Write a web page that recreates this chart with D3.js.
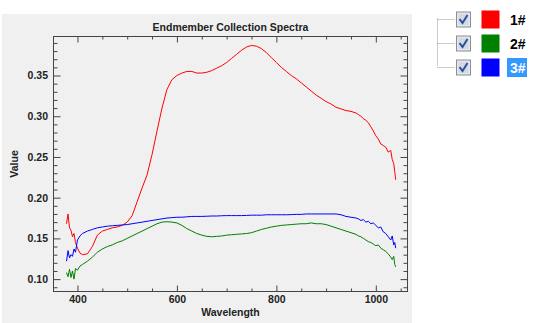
<!DOCTYPE html>
<html><head><meta charset="utf-8">
<script src="https://cdn.jsdelivr.net/npm/d3@7"></script>
<style>
html,body{margin:0;padding:0;background:#fff;}
svg{display:block;}
</style></head>
<body>
<svg id="c" width="535" height="323"></svg>
<script>
const wavelengths = [378,381,384,387,390,393,396,400,405,410,
 420,430,440,450,460,470,480,490,500,510,520,530,540,550,560,570,580,590,600,
 610,620,630,640,650,660,670,680,690,700,710,720,730,740,750,760,770,780,790,800,
 810,820,830,840,850,860,870,880,890,900,910,920,930,940,950,960,
 965,970,975,980,985,990,995,1000,1005,1010,1015,1020,1025,1030,1033,1036,1038,1040];

const series1 = [0.168,0.180,0.163,0.160,0.152,0.156,0.145,0.138,0.132,0.130,
 0.131,0.140,0.154,0.159,0.161,0.163,0.164,0.166,0.170,0.178,0.195,0.212,0.228,0.253,0.282,0.310,0.333,0.345,0.350,
 0.353,0.355,0.355,0.353,0.353,0.354,0.356,0.359,0.362,0.366,0.371,0.376,0.381,0.385,0.387,0.386,0.383,0.378,0.372,0.366,
 0.360,0.355,0.350,0.346,0.341,0.336,0.331,0.326,0.322,0.318,0.315,0.311,0.309,0.307,0.306,0.304,
 0.302,0.300,0.297,0.295,0.292,0.287,0.282,0.276,0.272,0.266,0.264,0.262,0.256,0.258,0.247,0.242,0.232,0.222];

const series2 = [0.108,0.103,0.112,0.102,0.110,0.100,0.113,0.111,0.116,0.118,
 0.122,0.127,0.133,0.137,0.140,0.142,0.145,0.147,0.150,0.153,0.156,0.159,0.162,0.165,0.168,0.170,0.1705,0.170,0.169,
 0.166,0.162,0.159,0.156,0.154,0.1525,0.152,0.1525,0.153,0.154,0.1545,0.155,0.1555,0.156,0.157,0.159,0.161,0.1625,0.164,0.165,
 0.166,0.1665,0.167,0.1675,0.168,0.168,0.169,0.168,0.168,0.167,0.165,0.163,0.161,0.159,0.157,0.155,
 0.153,0.152,0.150,0.148,0.146,0.145,0.143,0.141,0.142,0.138,0.136,0.134,0.131,0.127,0.124,0.128,0.118,0.115];

const series3 = [0.122,0.135,0.126,0.130,0.128,0.137,0.133,0.148,0.153,0.156,
 0.159,0.161,0.163,0.164,0.165,0.1655,0.166,0.1665,0.167,0.168,0.169,0.170,0.171,0.172,0.173,0.174,0.175,0.1755,0.176,
 0.176,0.1765,0.177,0.177,0.177,0.1772,0.1775,0.1775,0.1778,0.178,0.178,0.178,0.178,0.1782,0.1785,0.1785,0.1785,0.179,0.179,0.179,
 0.179,0.179,0.1792,0.1795,0.1795,0.180,0.180,0.180,0.180,0.180,0.180,0.180,0.179,0.177,0.176,0.175,
 0.174,0.172,0.173,0.170,0.171,0.168,0.169,0.166,0.163,0.164,0.158,0.156,0.152,0.148,0.153,0.142,0.145,0.138];

const seriesNames = ["1#","2#","3#"];
const seriesColors = ["#ff0000","#008000","#0000ff"];
const xTicks = [400,600,800,1000];
const xMinorTicks = [400,450,500,550,600,650,700,750,800,850,900,950,1000,1050];
const yTicks = [0.10,0.15,0.20,0.25,0.30,0.35];
const yTickLabels = ["0.10","0.15","0.20","0.25","0.30","0.35"];
const yMinorTicks = [0.09,0.10,0.11,0.12,0.13,0.14,0.15,0.16,0.17,0.18,0.19,0.20,0.21,0.22,0.23,0.24,0.25,0.26,0.27,0.28,0.29,0.30,0.31,0.32,0.33,0.34,0.35,0.36,0.37,0.38,0.39];
const title = "Endmember Collection Spectra";
const xLabel = "Wavelength";
const yLabel = "Value";

const svg = d3.select("#c");
const font = "'Liberation Sans', Arial, sans-serif";

// panel
svg.append("rect").attr("x",2).attr("y",14).attr("width",410).attr("height",309).attr("fill","#f0f0f0");

const L=53.5, R=407.5, T=36.5, B=291.5;
const x = d3.scaleLinear().domain([351.8,1063.7]).range([L,R]);
const y = d3.scaleLinear().domain([0.0848,0.3979]).range([B,T]);

const axColor = "#444";
function styleAxis(g){
  g.select(".domain").remove();
  g.selectAll(".tick line").attr("stroke",axColor);
  g.selectAll(".tick text").attr("fill","#222").attr("font-family",font).attr("font-size","10.5px").attr("font-weight","bold");
}
const notMajorX = xMinorTicks.filter(v=>!xTicks.includes(v));
const notMajorY = yMinorTicks.filter(v=>!yTicks.some(t=>Math.abs(t-v)<1e-9));
// minor ticks
svg.append("g").attr("transform",`translate(0,${B})`).call(d3.axisBottom(x).tickValues(notMajorX).tickSize(-3).tickFormat("")).call(styleAxis);
svg.append("g").attr("transform",`translate(0,${T})`).call(d3.axisTop(x).tickValues(notMajorX).tickSize(-3).tickFormat("")).call(styleAxis);
svg.append("g").attr("transform",`translate(${L},0)`).call(d3.axisLeft(y).tickValues(notMajorY).tickSize(-4).tickFormat("")).call(styleAxis);
svg.append("g").attr("transform",`translate(${R},0)`).call(d3.axisRight(y).tickValues(notMajorY).tickSize(-4).tickFormat("")).call(styleAxis);
// major ticks
svg.append("g").attr("transform",`translate(0,${B})`).call(d3.axisBottom(x).tickValues(xTicks).tickSize(-6).tickPadding(4).tickFormat(d=>String(d))).call(styleAxis);
svg.append("g").attr("transform",`translate(0,${T})`).call(d3.axisTop(x).tickValues(xTicks).tickSize(-6).tickFormat("")).call(styleAxis);
svg.append("g").attr("transform",`translate(${L},0)`).call(d3.axisLeft(y).tickValues(yTicks).tickSize(-7).tickPadding(5.5).tickFormat((d,i)=>yTickLabels[i])).call(styleAxis);
svg.append("g").attr("transform",`translate(${R},0)`).call(d3.axisRight(y).tickValues(yTicks).tickSize(-7).tickFormat("")).call(styleAxis);

// frame
svg.append("rect").attr("x",L).attr("y",T).attr("width",R-L).attr("height",B-T).attr("fill","none").attr("stroke",axColor);

// lines
const allSeries=[series1,series2,series3];
const line = d3.line().x((d,i)=>x(wavelengths[i])).y(d=>y(d));
allSeries.forEach((s,k)=>{
  svg.append("path").datum(s).attr("d",line).attr("fill","none").attr("stroke",seriesColors[k]).attr("stroke-width",1).attr("stroke-linejoin","round");
});

// titles
svg.append("text").attr("x",(L+R)/2).attr("y",30.5).attr("text-anchor","middle").attr("font-family",font).attr("font-size","10.5px").attr("font-weight","bold").attr("fill","#222").text(title);
svg.append("text").attr("x",(L+R)/2).attr("y",316).attr("text-anchor","middle").attr("font-family",font).attr("font-size","10.5px").attr("font-weight","bold").attr("fill","#222").text(xLabel);
svg.append("text").attr("transform","translate(18,164) rotate(-90)").attr("text-anchor","middle").attr("font-family",font).attr("font-size","10.5px").attr("font-weight","bold").attr("fill","#222").text(yLabel);

// legend tree
const rowY = d3.scaleLinear().domain([0,2]).range([18.5,66.5]);
const lg = svg.append("g");
lg.append("line").attr("x1",437.5).attr("x2",437.5).attr("y1",rowY(0)).attr("y2",rowY(2)).attr("stroke","#999").attr("stroke-dasharray","1,1");
seriesNames.forEach((nm,i)=>{
  const cy = Math.round(rowY(i))+0.5;
  lg.append("line").attr("x1",437.5).attr("x2",455).attr("y1",cy).attr("y2",cy).attr("stroke","#999").attr("stroke-dasharray","1,1");
  lg.append("rect").attr("x",456.5).attr("y",cy-7.5).attr("width",14).attr("height",15).attr("fill","#e4e8ee").attr("stroke","#8d8d8d");
  lg.append("rect").attr("x",458.5).attr("y",cy-5.5).attr("width",10).attr("height",11).attr("fill","#d3dae4");
  lg.append("path").attr("d",`M${459.5},${cy-0.5} L${462.5},${cy+3.5} L${467.5},${cy-4.5}`).attr("fill","none").attr("stroke","#2b4f9a").attr("stroke-width",2);
  lg.append("rect").attr("x",481.5).attr("y",cy-9).attr("width",18).attr("height",18).attr("fill",seriesColors[i]);
  if(i===2){
    lg.append("rect").attr("x",507).attr("y",cy-9.5).attr("width",20).attr("height",19).attr("fill","#3399ff");
  }
  lg.append("text").attr("x",510).attr("y",cy+5.5).attr("font-family",font).attr("font-size","14px").attr("font-weight","bold").attr("fill",i===2?"#fff":"#000").text(nm);
});
</script>
</body></html>
